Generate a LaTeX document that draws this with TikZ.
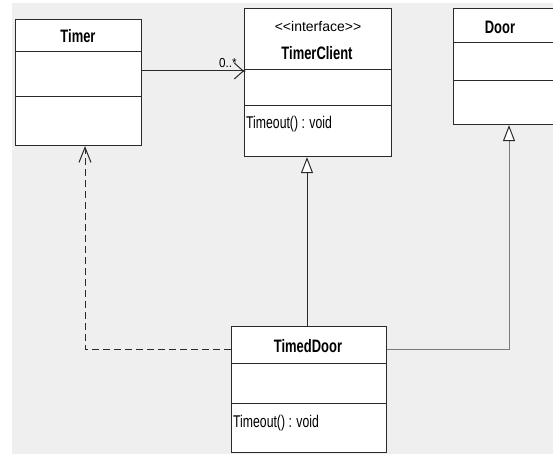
\documentclass[tikz,border=0pt]{standalone}
\usepackage{fontspec}
\setmainfont{Liberation Sans}
\newfontfamily\namefont{Liberation Sans}[FakeStretch=0.72]
\newfontfamily\opfont{Liberation Sans}[FakeStretch=0.72]
\newfontfamily\multfont{Liberation Sans}[FakeStretch=0.9]
\usetikzlibrary{arrows.meta}
\definecolor{canvas}{HTML}{EFEFEF}
\definecolor{edge}{HTML}{2A2A2A}
\definecolor{gengray}{HTML}{7A7A7A}
\tikzset{
  umlclass/.style={draw=edge, fill=white, line width=1.1pt, rectangle,
    anchor=north west, inner sep=0pt},
  compline/.style={draw=edge, line width=1pt},
  classname/.style={font=\namefont\bfseries\fontsize{18}{20}\selectfont, inner sep=0pt},
  stereo/.style={font=\fontsize{14}{16}\selectfont, inner sep=0pt},
  operation/.style={font=\opfont\fontsize{17}{19}\selectfont, inner sep=0pt, anchor=west},
  mult/.style={font=\multfont\fontsize{13}{15}\selectfont, inner sep=0pt},
  assoc/.style={draw=edge, line width=1pt, -{Straight Barb[length=9pt,width=16pt]}},
  depend/.style={draw=edge, line width=1pt, dash pattern=on 7pt off 4pt,
    -{Straight Barb[length=15pt,width=12pt]}},
  realize/.style={draw=edge, line width=1pt,
    -{Triangle[length=16pt,width=12pt,fill=white,color=edge]}},
}
\begin{document}
\begin{tikzpicture}[x=1pt, y=-1pt]
  \clip (0,0) rectangle (553,454);
  \fill[white] (0,0) rectangle (553,454);
  \fill[canvas] (12,3) rectangle (553,454);

  % classes
  \node[umlclass, minimum width=126pt, minimum height=126pt] (timer) at (15,19) {};
  \draw[compline] (timer.west |- 0,52) -- (timer.east |- 0,52);
  \draw[compline] (timer.west |- 0,97) -- (timer.east |- 0,97);
  \node[classname] (timername) at (78,36) {Timer};

  \node[umlclass, minimum width=147pt, minimum height=148pt] (tclient) at (244,8) {};
  \draw[compline] (tclient.west |- 0,70) -- (tclient.east |- 0,70);
  \draw[compline] (tclient.west |- 0,106) -- (tclient.east |- 0,106);
  \node[stereo] (tcstereo) at (318,26) {{<}{<}interface{>}{>}};
  \node[classname] (tcname) at (317,53) {TimerClient};
  \node[operation] (tcop) at (246,124) {Timeout() : void};

  \node[umlclass, minimum width=110pt, minimum height=116pt] (door) at (453,8) {};
  \draw[compline] (door.west |- 0,43) -- (door.east |- 0,43);
  \draw[compline] (door.west |- 0,81) -- (door.east |- 0,81);
  \node[classname] (doorname) at (500,27) {Door};

  \node[umlclass, minimum width=155pt, minimum height=126pt] (tdoor) at (231,326) {};
  \draw[compline] (tdoor.west |- 0,363) -- (tdoor.east |- 0,363);
  \draw[compline] (tdoor.west |- 0,403) -- (tdoor.east |- 0,403);
  \node[classname] (tdname) at (308,346) {TimedDoor};
  \node[operation] (tdop) at (233,423) {Timeout() : void};

  % relationships
  \draw[assoc] (timer.east |- 0,71) -- (tclient.west |- 0,71);
  \fill[edge] (tclient.west |- 0,71) circle (1.5pt);
  \node[mult] (multlbl) at (228,63) {0..*};
  \draw[depend] (tdoor.west |- 0,349) -| (timer.south -| 85,0);
  \draw[realize] (tdoor.north -| 307,0) -- (tclient.south -| 307,0);
  \draw[realize, draw=gengray] (tdoor.east |- 0,349) -| (door.south -| 509,0);
\end{tikzpicture}
\end{document}
